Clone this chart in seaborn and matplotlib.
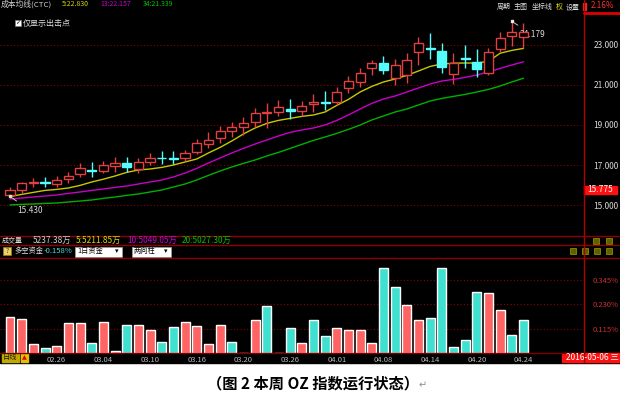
import numpy as np
import pandas as pd
import seaborn as sns
import matplotlib
matplotlib.use("Agg")
import matplotlib.pyplot as plt
from matplotlib.patches import Rectangle

# 数据：K线 (开, 高, 低, 收)
opens = [15.50, 15.75, 16.10, 16.15, 16.05, 16.30, 16.55, 16.75, 16.70, 16.95,
         17.10, 16.80, 17.15, 17.35, 17.35, 17.35, 17.65, 18.05, 18.35, 18.70,
         18.90, 19.15, 19.60, 19.65, 19.80, 19.70, 20.05, 20.15, 20.15, 20.85,
         21.15, 21.85, 22.10, 21.35, 21.50, 22.65, 22.85, 22.70, 21.55, 22.35,
         22.15, 21.60, 22.80, 23.45, 23.40]
highs = [15.90, 16.15, 16.35, 16.40, 16.45, 16.65, 17.10, 17.15, 17.20, 17.40,
         17.40, 17.35, 17.60, 17.70, 17.70, 17.75, 18.30, 18.65, 18.95, 19.15,
         19.40, 19.85, 20.10, 20.25, 20.30, 20.20, 20.55, 20.70, 20.90, 21.45,
         21.85, 22.25, 22.45, 22.30, 22.60, 23.40, 23.60, 23.10, 22.60, 23.00,
         22.80, 22.85, 23.65, 24.179, 24.10]
lows = [15.43, 15.60, 15.90, 15.90, 15.90, 16.10, 16.40, 16.40, 16.60, 16.65,
        16.65, 16.60, 17.00, 17.05, 17.05, 17.20, 17.55, 17.85, 18.10, 18.40,
        18.50, 18.90, 18.85, 19.45, 19.30, 19.45, 19.65, 19.75, 20.00, 20.60,
        20.90, 21.50, 21.55, 21.00, 21.10, 22.00, 22.30, 21.60, 21.05, 21.85,
        21.40, 21.50, 22.65, 22.95, 22.85]
closes = [15.75, 16.10, 16.14, 16.12, 16.25, 16.45, 16.85, 16.72, 17.00, 17.10,
          16.90, 17.15, 17.35, 17.33, 17.31, 17.60, 18.10, 18.25, 18.70, 18.90,
          19.10, 19.60, 19.63, 19.90, 19.72, 19.95, 20.15, 20.12, 20.65, 21.20,
          21.60, 22.10, 21.75, 22.00, 22.25, 23.10, 22.80, 21.90, 22.10, 22.30,
          21.80, 22.65, 23.35, 23.65, 23.65]

# 成本均线 5 / 13 / 34
ma5 = [15.42, 15.53, 15.63, 15.73, 15.78, 15.85, 15.98, 16.15, 16.29, 16.45,
       16.63, 16.75, 16.80, 16.88, 17.00, 17.15, 17.30, 17.60, 17.88, 18.20,
       18.55, 18.85, 19.08, 19.23, 19.33, 19.43, 19.50, 19.65, 19.98, 20.28,
       20.65, 20.93, 21.15, 21.30, 21.48, 21.70, 21.93, 22.05, 22.09, 22.10,
       22.10, 22.18, 22.59, 22.73, 22.83]
ma13 = [15.30, 15.35, 15.40, 15.45, 15.50, 15.58, 15.65, 15.73, 15.80, 15.88,
        15.95, 16.05, 16.15, 16.25, 16.40, 16.60, 16.83, 17.10, 17.35, 17.60,
        17.83, 18.05, 18.25, 18.45, 18.63, 18.75, 18.85, 19.00, 19.23, 19.50,
        19.80, 20.08, 20.30, 20.45, 20.65, 20.85, 21.05, 21.20, 21.28, 21.38,
        21.50, 21.65, 21.83, 22.00, 22.16]
ma34 = [15.00, 15.03, 15.05, 15.08, 15.10, 15.15, 15.20, 15.25, 15.33, 15.40,
        15.48, 15.55, 15.65, 15.75, 15.90, 16.05, 16.25, 16.48, 16.70, 16.90,
        17.08, 17.25, 17.45, 17.63, 17.83, 18.03, 18.23, 18.40, 18.58, 18.78,
        19.00, 19.25, 19.45, 19.65, 19.80, 20.00, 20.20, 20.33, 20.43, 20.53,
        20.65, 20.78, 20.95, 21.15, 21.34]

# 多空资金 (%)：正=多(红)，负=空(青)
fund = [0.169, 0.160, 0.042, -0.023, 0.033, 0.141, 0.141, -0.047, 0.146, 0.009,
        -0.131, 0.131, 0.108, -0.052, -0.122, 0.146, 0.127, 0.042, 0.131, -0.052,
        0.0, 0.155, -0.220, 0.0, -0.117, 0.047, -0.155, -0.080, 0.117, 0.108,
        0.108, 0.047, -0.400, -0.310, 0.225, 0.155, -0.164, -0.400, -0.028, -0.061,
        -0.286, 0.282, 0.202, -0.085, -0.155]

date_pos = [4, 8, 12, 16, 20, 24, 28, 32, 36, 40, 44]
date_labels = ['02.26', '03.04', '03.10', '03.16', '03.20', '03.26',
               '04.01', '04.08', '04.14', '04.20', '04.24']
price_ticks = [15, 17, 19, 21, 23]
fund_ticks = [0.115, 0.230, 0.345]

df = pd.DataFrame({'i': np.arange(len(opens)), 'o': opens, 'h': highs,
                   'l': lows, 'c': closes, 'ma5': ma5, 'ma13': ma13,
                   'ma34': ma34, 'fund': fund})

sns.set_theme(style="white")
NUM = ['Liberation Sans Narrow', 'Noto Sans CJK SC', 'DejaVu Sans']
plt.rcParams['font.family'] = NUM
plt.rcParams['axes.unicode_minus'] = False

RED = '#e04040'
CYAN = '#54fcfc'
BAR_RED = '#ff6464'
BAR_CYAN = '#40e0d0'
GRID = '#8c0000'

W, H = 620, 397
def rect(x0, y0, x1, y1):
    return [x0 / W, 1 - y1 / H, (x1 - x0) / W, (y1 - y0) / H]

fig = plt.figure(figsize=(6.2, 3.97), dpi=100)
fig.patch.set_facecolor('white')

# 黑色底
bg = fig.add_axes(rect(0, 0, W, H), zorder=-1)
bg.set_xlim(0, W)
bg.set_ylim(H, 0)
bg.axis('off')
bg.add_patch(Rectangle((0, 0), W, 363, color='black'))

xlim = (-10 / 11.67, (584 - 10) / 11.67)

# 主图
ax = fig.add_axes(rect(0, 0, 584, 233))
ax.set_facecolor('none')
ax.set_xlim(*xlim)
ax.set_ylim(13.6, 25.25)
for p in price_ticks:
    ax.axhline(p, color=GRID, ls=(0, (1, 2)), lw=0.8)

up = df['c'] >= df['o']
cols = np.where(up, RED, CYAN)
ax.vlines(df['i'], df['l'], df['h'], colors=cols, lw=1, zorder=3)
body_lo = np.minimum(df['o'], df['c'])
body_h = np.maximum(np.abs(df['c'] - df['o']), 0.02)
ax.bar(df['i'], body_h, bottom=body_lo, width=0.78,
       facecolor=np.where(up, 'black', CYAN), edgecolor=cols, lw=1, zorder=4)

sns.lineplot(data=df, x='i', y='ma5', ax=ax, color='#c8c800', lw=1, zorder=2)
sns.lineplot(data=df, x='i', y='ma13', ax=ax, color='#c800c8', lw=1, zorder=2)
sns.lineplot(data=df, x='i', y='ma34', ax=ax, color='#00b000', lw=1, zorder=2)

imin = int(df['l'].idxmin())
imax = int(df['h'].idxmax())
ax.annotate(f"{df['l'][imin]:.3f}", xy=(imin, df['l'][imin]), xytext=(7, -14),
            textcoords='offset pixels', color='#d8d8d8', fontsize=6,
            ha='left', va='center',
            arrowprops=dict(arrowstyle='-', color='#c8c8c8', lw=0.7))
ax.annotate(f"{df['h'][imax]:.3f}", xy=(imax, df['h'][imax]), xytext=(8, -13),
            textcoords='offset pixels', color='#d8d8d8', fontsize=6,
            ha='left', va='center',
            arrowprops=dict(arrowstyle='-', color='#c8c8c8', lw=0.7))
ax.plot([imin], [df['l'][imin]], 's', color='#e8e8a0', ms=2, zorder=5)
ax.plot([imax], [df['h'][imax]], 's', color='#e8e8e8', ms=2, zorder=5)

ax.yaxis.tick_right()
ax.set_yticks(price_ticks, [f'{p:.3f}' for p in price_ticks])
ax.tick_params(axis='y', length=0, pad=7, labelsize=6, labelcolor='#d8d8d8')
ax.set_xticks([])
ax.set_xlabel('')
ax.set_ylabel('')
for s in ax.spines.values():
    s.set_visible(False)

# 多空资金
bx = fig.add_axes(rect(0, 257, 584, 353))
bx.set_facecolor('none')
bx.set_xlim(*xlim)
bx.set_ylim(0, 96 / 213)
for t in fund_ticks:
    bx.axhline(t, color=GRID, ls=(0, (1, 2)), lw=0.8)
bx.bar(df['i'], df['fund'].abs(), width=0.77,
       color=np.where(df['fund'] >= 0, BAR_RED, BAR_CYAN), zorder=3)
bx.yaxis.tick_right()
bx.set_yticks(fund_ticks, [f'{t:.3f}%' for t in fund_ticks])
bx.tick_params(axis='y', length=0, pad=6, labelsize=5.5, labelcolor='#c83030')
bx.set_xticks(date_pos, date_labels)
bx.tick_params(axis='x', length=0, pad=2.5, labelsize=5.5, labelcolor='#b8b8b8')
for s in bx.spines.values():
    s.set_visible(False)

# 叠加层：边框线和文字
ov = fig.add_axes(rect(0, 0, W, H), zorder=10)
ov.set_xlim(0, W)
ov.set_ylim(H, 0)
ov.axis('off')

ov.plot([584, 584], [0, 362], color='#b00000', lw=1)
for yy in [235.5, 245, 257.5]:
    ov.plot([0, W], [yy, yy], color='#900000', lw=1)
ov.plot([0, 584], [352.5, 352.5], color='#800000', lw=1)
ov.plot([584, W], [12.5, 12.5], color='#e00000', lw=2)

ov.text(1, 4, '成本均线(CTC)', color='#d0d0d0', fontsize=5.6, va='center')
ov.text(62, 4, '5:22.830', color='#d8d800', fontsize=5, va='center')
ov.text(100, 4, '13:22.157', color='#d000d0', fontsize=5, va='center')
ov.text(143, 4, '34:21.339', color='#00c000', fontsize=5, va='center')
ov.add_patch(Rectangle((15, 20), 5.5, 5.5, facecolor='white', edgecolor='#808080', lw=0.5))
ov.text(17.75, 22.75, '✓', color='black', fontsize=4.5, ha='center', va='center',
        family='DejaVu Sans')
ov.text(23, 23, '仅显示出击点', color='#e0e0e0', fontsize=5.8, va='center')

ov.text(497, 7, '周期', color='#e0e0e0', fontsize=5, va='center')
ov.text(514, 7, '主图', color='#e0e0e0', fontsize=5, va='center')
ov.text(532, 7, '坐标线', color='#e0e0e0', fontsize=5, va='center')
ov.text(555.5, 7, '权', color='#e0e000', fontsize=5, va='center')
ov.text(566, 7, '设置', color='#e0e0e0', fontsize=5, va='center')
ov.add_patch(Rectangle((583, 3), 3, 7, color='#e03030'))
ov.text(591, 5, '2.16%', color='#ff3030', fontsize=5.8, va='center')

ov.add_patch(Rectangle((584, 186), 33, 7.5, color='#ff1010'))
ov.text(587, 189.8, '15.775', color='white', fontsize=6, va='center')

ov.text(2, 240.5, '成交量', color='#e0e0e0', fontsize=5, va='center')
ov.text(33, 240.5, '5237.38万', color='#d0d0d0', fontsize=6, va='center')
ov.text(76, 240.5, '5:5211.85万', color='#d8d800', fontsize=6, va='center')
ov.text(127, 240.5, '10:5049.05万', color='#d000d0', fontsize=6, va='center')
ov.text(182, 240.5, '20:5027.30万', color='#00c000', fontsize=6, va='center')
for xx in [593, 606]:
    ov.add_patch(Rectangle((xx, 237.5), 6, 6, facecolor='#606000', edgecolor='#a0a000', lw=0.5))

ov.add_patch(Rectangle((3, 247), 8, 8, facecolor='#e8d070', edgecolor='#a08000', lw=0.5))
ov.text(7, 251, '?', color='#604000', fontsize=5, ha='center', va='center')
ov.text(14, 251, '多空资金', color='#e0e0e0', fontsize=5.2, va='center')
ov.text(44, 251, '-0.158%', color='#40e0d0', fontsize=5.5, va='center')
ov.add_patch(Rectangle((75, 246.5), 47, 10, facecolor='white', edgecolor='#a0a0a0', lw=0.5))
ov.text(77, 251.5, '1日资金', color='black', fontsize=5.2, va='center')
ov.text(117, 251.5, '▾', color='black', fontsize=5, ha='center', va='center',
        family='DejaVu Sans')
ov.add_patch(Rectangle((132, 246.5), 39, 10, facecolor='white', edgecolor='#a0a0a0', lw=0.5))
ov.text(134, 251.5, '两向柱', color='black', fontsize=5.2, va='center')
ov.text(166, 251.5, '▾', color='black', fontsize=5, ha='center', va='center',
        family='DejaVu Sans')
for xx in [570, 582, 594, 606]:
    ov.add_patch(Rectangle((xx, 247.5), 6, 6, facecolor='#606000', edgecolor='#a0a000', lw=0.5))

ov.add_patch(Rectangle((2, 353), 17, 9, color='#c0a800'))
ov.text(10.5, 357.5, '日线', color='#202000', fontsize=5.2, ha='center', va='center')
ov.add_patch(Rectangle((21, 353), 6.5, 9, color='#e0c000'))
ov.text(24.25, 358, '▲', color='#e00000', fontsize=4.5, ha='center', va='center',
        family='DejaVu Sans')
ov.add_patch(Rectangle((562, 353), 58, 9, color='#ff1010'))
ov.text(566, 357.5, '2016-05-06 三', color='white', fontsize=6, va='center')

ov.text(313, 383, '（图 2 本周 OZ 指数运行状态）', color='black', fontsize=11,
        fontweight='bold', ha='center', va='center', family=['Noto Sans CJK SC'])
ov.text(423, 385, '↵', color='#909090', fontsize=7, ha='center', va='center',
        family='DejaVu Sans')

fig.savefig('out.png', dpi=100, facecolor='white')
